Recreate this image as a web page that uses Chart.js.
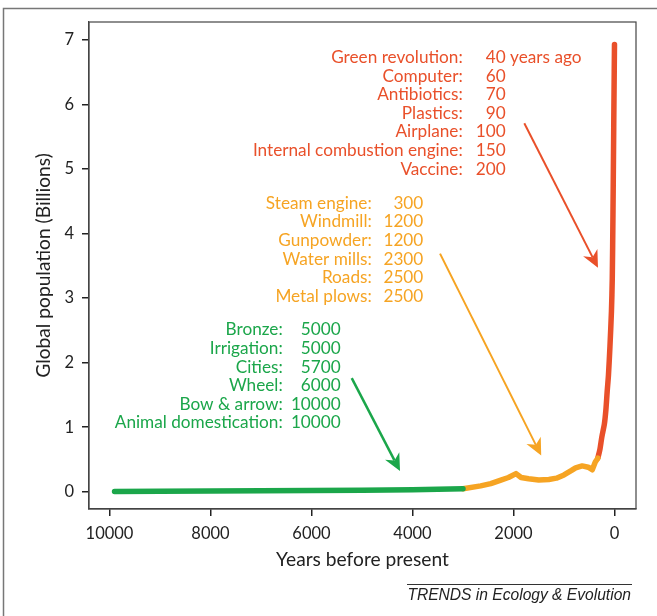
<!DOCTYPE html>
<html>
<head>
<meta charset="utf-8">
<script src="https://cdn.jsdelivr.net/npm/chart.js@4.4.1/dist/chart.umd.min.js"></script>
<style>
  html, body { margin: 0; padding: 0; background: #fff; }
  #wrap { width: 657px; height: 616px; position: relative; }
</style>
</head>
<body>
<div id="wrap"><canvas id="popChart"></canvas></div>
<script>
// Data (years before present, population in billions)
const greenYears = [9900, 9000, 8000, 7000, 6000, 5000, 4000, 3000];
const greenPop   = [0.005, 0.007, 0.010, 0.013, 0.017, 0.022, 0.030, 0.045];

const orangeYears = [3000, 2650, 2450, 2250, 2100, 1950, 1850, 1700, 1500, 1300, 1150, 1000, 850, 770, 640, 520, 440, 380, 330];
const orangePop   = [0.045, 0.09, 0.125, 0.18, 0.22, 0.28, 0.22, 0.20, 0.18, 0.19, 0.21, 0.26, 0.33, 0.37, 0.40, 0.38, 0.34, 0.46, 0.52];

const redYears = [330, 290, 250, 200, 170, 145, 120, 90, 60, 44, 30, 20, 10, 0];
const redPop   = [0.52, 0.65, 0.85, 1.05, 1.27, 1.55, 1.80, 2.25, 2.80, 3.30, 4.30, 5.20, 6.10, 6.93];

const xTicks = [10000, 8000, 6000, 4000, 2000, 0];
const yTicks = [0, 1, 2, 3, 4, 5, 6, 7];

// Annotation texts
const redLabels = ['Green revolution:', 'Computer:', 'Antibiotics:', 'Plastics:', 'Airplane:', 'Internal combustion engine:', 'Vaccine:'];
const redDates  = ['40', '60', '70', '90', '100', '150', '200'];
const orangeLabels = ['Steam engine:', 'Windmill:', 'Gunpowder:', 'Water mills:', 'Roads:', 'Metal plows:'];
const orangeDates  = ['300', '1200', '1200', '2300', '2500', '2500'];
const greenLabels = ['Bronze:', 'Irrigation:', 'Cities:', 'Wheel:', 'Bow & arrow:', 'Animal domestication:'];
const greenDates  = ['5000', '5000', '5700', '6000', '10000', '10000'];

const GREEN = '#1ba64a';
const ORANGE = '#f6a423';
const RED = '#e9502a';
const FONT = 'Lato';
const INK = '#222';

function toPoints(xs, ys) {
    return xs.map((x, i) => ({ x: x, y: ys[i] }));
}

// text blocks: anchors in data units (label end, number end, first line)
const blocks = [
    { color: RED, labels: redLabels, dates: redDates, labelX: 3006, dateX: 2154, y: 6.73, suffix: ' years ago' },
    { color: ORANGE, labels: orangeLabels, dates: orangeDates, labelX: 4807, dateX: 3786, y: 4.47 },
    { color: GREEN, labels: greenLabels, dates: greenDates, labelX: 6570, dateX: 5421, y: 2.507 }
];
const arrows = [
    { color: GREEN, from: [5203, 1.76], to: [4247, 0.32], w: 2.5 },
    { color: ORANGE, from: [3455, 3.69], to: [1451, 0.56], w: 2 },
    { color: RED, from: [1786, 5.71], to: [327, 3.47], w: 2 }
];

function drawArrow(ctx, x1, y1, x2, y2, color, w) {
    const a = Math.atan2(y2 - y1, x2 - x1);
    const L = 17, W = 8, notch = 5;
    const c = Math.cos(a), s = Math.sin(a);
    ctx.strokeStyle = color;
    ctx.fillStyle = color;
    ctx.lineWidth = w;
    ctx.beginPath();
    ctx.moveTo(x1, y1);
    ctx.lineTo(x2 - c * (L - notch), y2 - s * (L - notch));
    ctx.stroke();
    ctx.beginPath();
    ctx.moveTo(x2, y2);
    ctx.lineTo(x2 - L * c + W * s, y2 - L * s - W * c);
    ctx.lineTo(x2 - (L - notch) * c, y2 - (L - notch) * s);
    ctx.lineTo(x2 - L * c - W * s, y2 - L * s + W * c);
    ctx.closePath();
    ctx.fill();
}

const decorPlugin = {
    id: 'decor',
    afterDraw(chart) {
        const ctx = chart.ctx;
        const xs = chart.scales.x, ys = chart.scales.y;
        const area = chart.chartArea;
        ctx.save();
        // plot frame
        ctx.strokeStyle = '#444';
        ctx.lineWidth = 1.2;
        ctx.strokeRect(area.left, area.top, area.right - area.left, area.bottom - area.top);
        // outer figure frame
        ctx.strokeStyle = '#777';
        ctx.lineWidth = 1.5;
        ctx.beginPath();
        ctx.moveTo(3.5, chart.height);
        ctx.lineTo(3.5, 8.5);
        ctx.lineTo(chart.width, 8.5);
        ctx.stroke();

        // text blocks
        ctx.font = '17.2px ' + FONT;
        ctx.textBaseline = 'middle';
        const sp = 18.6;
        blocks.forEach(b => {
            ctx.fillStyle = b.color;
            const lx = xs.getPixelForValue(b.labelX);
            const dx = xs.getPixelForValue(b.dateX);
            const y0 = ys.getPixelForValue(b.y);
            b.labels.forEach((t, i) => {
                ctx.textAlign = 'right';
                ctx.fillText(t, lx, y0 + i * sp);
                ctx.fillText(b.dates[i], dx, y0 + i * sp);
            });
            if (b.suffix) {
                ctx.textAlign = 'left';
                ctx.fillText(b.suffix, dx, y0);
            }
        });

        // arrows
        arrows.forEach(a => {
            drawArrow(ctx,
                xs.getPixelForValue(a.from[0]), ys.getPixelForValue(a.from[1]),
                xs.getPixelForValue(a.to[0]), ys.getPixelForValue(a.to[1]),
                a.color, a.w);
        });

        // journal footer
        ctx.strokeStyle = '#333';
        ctx.lineWidth = 1;
        ctx.beginPath();
        ctx.moveTo(407, 584.5);
        ctx.lineTo(632, 584.5);
        ctx.stroke();
        ctx.fillStyle = '#222';
        ctx.font = 'italic 15.6px "Liberation Sans"';
        ctx.textAlign = 'right';
        ctx.textBaseline = 'alphabetic';
        ctx.fillText('TRENDS in Ecology & Evolution', 631, 600);
        ctx.restore();
    }
};

function lineSet(xs, ys, color, tension) {
    return {
        data: toPoints(xs, ys),
        borderColor: color,
        borderWidth: 5.5,
        pointRadius: 0,
        tension: tension,
        borderCapStyle: 'round',
        borderJoinStyle: 'round',
        fill: false
    };
}

const tickFont = { family: FONT, size: 16.5 };
const titleFont = { family: FONT, size: 19.2 };

new Chart(document.getElementById('popChart'), {
    type: 'line',
    data: {
        datasets: [
            lineSet(greenYears, greenPop, GREEN, 0),
            lineSet(orangeYears, orangePop, ORANGE, 0),
            lineSet(redYears, redPop, RED, 0.25)
        ]
    },
    options: {
        responsive: true,
        maintainAspectRatio: false,
        animation: false,
        layout: { padding: { top: 22, right: 21, left: 0, bottom: 0 } },
        plugins: {
            legend: { display: false },
            tooltip: { enabled: false }
        },
        scales: {
            x: {
                type: 'linear',
                reverse: true,
                min: -426,
                max: 10406,
                afterBuildTicks: s => { s.ticks = xTicks.map(v => ({ value: v })); },
                afterFit: s => { s.height = 107; },
                ticks: { font: tickFont, color: INK, padding: 8, maxRotation: 0, autoSkip: false, callback: v => String(v) },
                grid: { display: true, drawOnChartArea: false, drawTicks: true, tickLength: 7, color: '#222', lineWidth: 1.5 },
                border: { display: true, color: '#444', width: 1.2 },
                title: { display: true, text: 'Years before present', font: titleFont, color: INK, padding: { top: 0, bottom: 45 } }
            },
            y: {
                min: -0.268,
                max: 7.28,
                afterBuildTicks: s => { s.ticks = yTicks.map(v => ({ value: v })); },
                afterFit: s => { s.width = 89; },
                ticks: { font: tickFont, color: INK, padding: 8, callback: v => String(v) },
                grid: { display: true, drawOnChartArea: false, drawTicks: true, tickLength: 7, color: '#222', lineWidth: 1.5 },
                border: { display: true, color: '#444', width: 1.2 },
                title: { display: true, text: 'Global population (Billions)', font: titleFont, color: INK, padding: { top: 32, bottom: 0 } }
            }
        }
    },
    plugins: [decorPlugin]
});
</script>
</body>
</html>
